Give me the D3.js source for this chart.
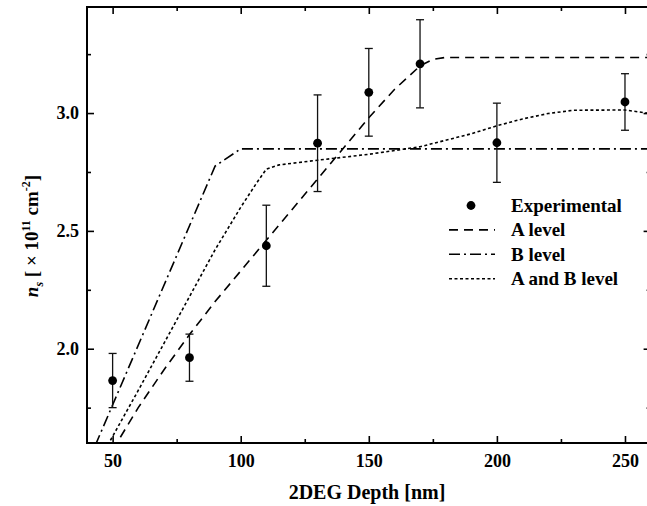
<!DOCTYPE html>
<html>
<head>
<meta charset="utf-8">
<script src="https://cdn.jsdelivr.net/npm/d3@7"></script>
<style>
  body { margin: 0; background: #fff; }
  svg text { font-family: "Liberation Serif", "Times New Roman", serif; font-weight: bold; fill: #000; }
</style>
</head>
<body>
<svg id="chart" width="647" height="506"></svg>
<script>
// experimental points
let depth = [50, 80, 110, 130, 150, 170, 200, 250];
let nsValue = [1.865, 1.962, 2.437, 2.872, 3.088, 3.209, 2.874, 3.047];
let nsError = [0.115, 0.1, 0.172, 0.205, 0.186, 0.187, 0.168, 0.12];

// model curves
let aLevelX = [50, 60, 70, 80, 90, 100, 110, 120, 130, 140, 150, 160, 170, 175, 180, 260];
let aLevelY = [1.57, 1.75, 1.91, 2.06, 2.2, 2.33, 2.46, 2.59, 2.72, 2.85, 2.98, 3.1, 3.2, 3.228, 3.236, 3.236];
let bLevelX = [40, 90, 100, 260];
let bLevelY = [1.508, 2.775, 2.848, 2.848];
let abLevelX = [46, 60, 70, 80, 90, 100, 106, 110, 115, 130, 150, 170, 190, 200, 210, 220, 230, 250, 260];
let abLevelY = [1.55, 1.823, 2.022, 2.221, 2.42, 2.6, 2.7, 2.762, 2.78, 2.8, 2.825, 2.857, 2.912, 2.946, 2.975, 2.998, 3.012, 3.013, 2.998];

let xTicks = [50, 100, 150, 200, 250];
let xMinor = [75, 125, 175, 225];
let yTicks = [2.0, 2.5, 3.0];
let yMinor = [1.75, 2.25, 2.75, 3.25];

let legendNames = ["Experimental", "A level", "B level", "A and B level"];
let dashes = [null, "9,6", "11,4,2,4", "3,2.5"];

let margin = {top: 7, right: 0, bottom: 63, left: 87},
    width = 650.6 - margin.left,
    height = 506 - margin.top - margin.bottom;

let svg = d3.select("#chart")
    .append("g")
    .attr("transform", "translate(" + margin.left + "," + margin.top + ")");

let x = d3.scaleLinear().domain([40, 260]).range([0, width]);
let y = d3.scaleLinear().domain([1.6, 3.45]).range([height, 0]);

svg.append("clipPath")
    .attr("id", "plotArea")
    .append("rect")
    .attr("width", width)
    .attr("height", height);

// axes, ticks pointing inward
function drawAxes() {
    let fmt = d3.format(".1f");
    let bottom = svg.append("g")
        .attr("transform", "translate(0," + height + ")")
        .call(d3.axisBottom(x).tickValues(xTicks).tickSize(-7).tickPadding(11));
    let bottomMinor = svg.append("g")
        .attr("transform", "translate(0," + height + ")")
        .call(d3.axisBottom(x).tickValues(xMinor).tickSize(-4).tickFormat(""));
    let top = svg.append("g")
        .call(d3.axisTop(x).tickValues(xTicks).tickSize(-7).tickFormat(""));
    let topMinor = svg.append("g")
        .call(d3.axisTop(x).tickValues(xMinor).tickSize(-4).tickFormat(""));
    let left = svg.append("g")
        .call(d3.axisLeft(y).tickValues(yTicks).tickSize(-7).tickPadding(8).tickFormat(fmt));
    let leftMinor = svg.append("g")
        .call(d3.axisLeft(y).tickValues(yMinor).tickSize(-4).tickFormat(""));
    let right = svg.append("g")
        .attr("transform", "translate(" + width + ",0)")
        .call(d3.axisRight(y).tickValues(yTicks).tickSize(-7).tickFormat(""));
    let rightMinor = svg.append("g")
        .attr("transform", "translate(" + width + ",0)")
        .call(d3.axisRight(y).tickValues(yMinor).tickSize(-4).tickFormat(""));

    [bottom, bottomMinor, top, topMinor, left, leftMinor, right, rightMinor].forEach(function (g) {
        g.select(".domain").remove();
        g.selectAll(".tick line").attr("stroke", "#000").attr("stroke-width", 1.6);
        g.selectAll(".tick text").style("font-size", "18px").attr("fill", "#000");
    });

    svg.append("rect")
        .attr("width", width)
        .attr("height", height)
        .attr("fill", "none")
        .attr("stroke", "#000")
        .attr("stroke-width", 2);
}

drawAxes();

// curves
let curves = [
    {xs: aLevelX, ys: aLevelY, dash: dashes[1]},
    {xs: bLevelX, ys: bLevelY, dash: dashes[2]},
    {xs: abLevelX, ys: abLevelY, dash: dashes[3]}
];
let line = d3.line()
    .x(function (d) { return x(d[0]); })
    .y(function (d) { return y(d[1]); });

let curveGroup = svg.append("g").attr("clip-path", "url(#plotArea)");
for (let i = 0; i < curves.length; i++) {
    let c = curves[i];
    let pts = c.xs.map(function (v, j) { return [v, c.ys[j]]; });
    curveGroup.append("path")
        .datum(pts)
        .attr("d", line)
        .attr("fill", "none")
        .attr("stroke", "#000")
        .attr("stroke-width", 1.6)
        .attr("stroke-dasharray", c.dash);
}

// error bars and points
let points = svg.append("g");
for (let i = 0; i < depth.length; i++) {
    let cx = x(depth[i]);
    let lo = y(nsValue[i] - nsError[i]);
    let hi = y(nsValue[i] + nsError[i]);
    points.append("line")
        .attr("x1", cx).attr("x2", cx)
        .attr("y1", lo).attr("y2", hi)
        .attr("stroke", "#111").attr("stroke-width", 1.3);
    [lo, hi].forEach(function (yy) {
        points.append("line")
            .attr("x1", cx - 4).attr("x2", cx + 4)
            .attr("y1", yy).attr("y2", yy)
            .attr("stroke", "#111").attr("stroke-width", 1.3);
    });
    points.append("circle")
        .attr("cx", cx)
        .attr("cy", y(nsValue[i]))
        .attr("r", 4.4)
        .attr("fill", "#000");
}

// legend
let legend = svg.append("g").attr("transform", "translate(" + (449 - margin.left) + "," + (205.5 - margin.top) + ")");
for (let i = 0; i < legendNames.length; i++) {
    let row = legend.append("g").attr("transform", "translate(0," + (i * 24.4) + ")");
    if (i === 0) {
        row.append("circle").attr("cx", 22).attr("cy", 0).attr("r", 4.4).attr("fill", "#000");
    } else {
        row.append("line")
            .attr("x1", 0).attr("x2", 46)
            .attr("y1", 0).attr("y2", 0)
            .attr("stroke", "#000")
            .attr("stroke-width", 1.6)
            .attr("stroke-dasharray", dashes[i]);
    }
    row.append("text")
        .attr("x", 62)
        .attr("y", 6.5)
        .style("font-size", "19px")
        .text(legendNames[i]);
}

// axis titles
d3.select("#chart").append("text")
    .attr("x", 367)
    .attr("y", 499)
    .attr("text-anchor", "middle")
    .style("font-size", "20px")
    .text("2DEG Depth [nm]");

let yTitle = d3.select("#chart").append("text")
    .attr("transform", "translate(38,236) rotate(-90)")
    .attr("text-anchor", "middle")
    .style("font-size", "19px");
yTitle.append("tspan").style("font-style", "italic").text("n");
yTitle.append("tspan").attr("dy", 5).style("font-size", "12px").style("font-style", "italic").text("s");
yTitle.append("tspan").attr("dy", -5).text(" [ \u00d7 10");
yTitle.append("tspan").attr("dy", -8).style("font-size", "12px").text("11");
yTitle.append("tspan").attr("dy", 8).text(" cm");
yTitle.append("tspan").attr("dy", -8).style("font-size", "12px").text("-2");
yTitle.append("tspan").attr("dy", 8).text("]");
</script>
</body>
</html>
